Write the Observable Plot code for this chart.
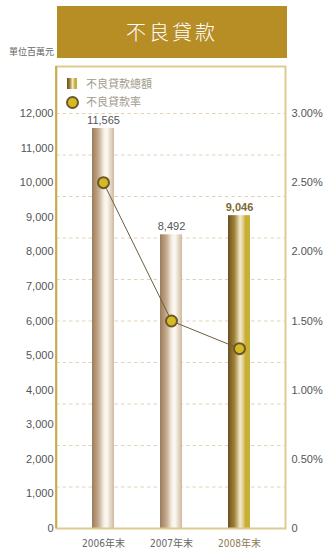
<!DOCTYPE html>
<html>
<head>
<meta charset="utf-8">
<script src="https://cdn.jsdelivr.net/npm/d3@7"></script>
<script src="https://cdn.jsdelivr.net/npm/@observablehq/plot@0.6"></script>
<style>
  html, body { margin: 0; padding: 0; background: #fff; }
  #wrap { position: relative; width: 323px; height: 553px; overflow: hidden; }
  #wrap svg.plot { position: absolute; left: 0; top: 0; }
  .title { position: absolute; left: 57px; top: 6px; width: 230px; height: 52px; background: #b68e25;
    color: #fff; font-family: "Noto Sans CJK TC", sans-serif; font-weight: 300; font-size: 20px;
    letter-spacing: 3px; text-align: center; line-height: 52px; z-index: 2; }
  .unit { position: absolute; right: 269px; top: 45px; font-family: "Noto Sans CJK TC", sans-serif;
    font-size: 9px; color: #666; white-space: nowrap; z-index: 2; }
  .leg { position: absolute; left: 66px; font-family: "Noto Sans CJK TC", sans-serif; font-size: 11px;
    color: #a39b8c; z-index: 2; white-space: nowrap; }
  .sw { position: absolute; }
</style>
</head>
<body>
<div id="wrap"></div>
<script>
const years = ["2006年末", "2007年末", "2008年末"];
const nplTotal = [11565, 8492, 9046];          // 百萬元
const nplRate = [2.50, 1.50, 1.30];            // %
const leftTicks = [0, 1000, 2000, 3000, 4000, 5000, 6000, 7000, 8000, 9000, 10000, 11000, 12000];
const rightTicks = [0, 0.5, 1.0, 1.5, 2.0, 2.5, 3.0]; // %
const gridRates = [0.3, 0.6, 0.9, 1.2, 1.5, 1.8, 2.1, 2.4, 2.7, 3.0]; // %
const titleText = "不良貸款";
const unitText = "單位百萬元";
const legendBar = "不良貸款總額";
const legendDot = "不良貸款率";

const rateToY = 12000 / 3.0; // right axis 3.00% aligns with 12,000
const data = years.map((y, i) => ({year: y, total: nplTotal[i], rate: nplRate[i], last: i === years.length - 1}));
const older = data.filter(d => !d.last);
const latest = data.filter(d => d.last);

const plot = Plot.plot({
  width: 323,
  height: 553,
  marginTop: 66,
  marginBottom: 25,
  marginLeft: 56,
  marginRight: 38,
  style: {fontFamily: "'Liberation Sans', Arial, sans-serif", fontSize: "11px", color: "#555", background: "transparent"},
  x: {domain: years, paddingInner: 0.679, paddingOuter: 0.511, label: null},
  y: {domain: [0, 12000 * 462 / 415], label: null},
  marks: [
    Plot.ruleY(gridRates.map(r => r * rateToY), {stroke: "#e3d0b8", strokeWidth: 1, strokeDasharray: "3.5,3"}),
    Plot.barY(older, {x: "year", y: "total", fill: "url(#gradTan)"}),
    Plot.barY(latest, {x: "year", y: "total", fill: "url(#gradGold)"}),
    Plot.text(older, {x: "year", y: "total", text: d => d3.format(",")(d.total), dy: -8, fill: "#555", fontSize: 11}),
    Plot.text(latest, {x: "year", y: "total", text: d => d3.format(",")(d.total), dy: -8, fill: "#7b6a34", fontWeight: "bold", fontSize: 11}),
    Plot.line(data, {x: "year", y: d => d.rate * rateToY, stroke: "#6d5c3e", strokeWidth: 1}),
    Plot.dot(data, {x: "year", y: d => d.rate * rateToY, r: 5.5, fill: "#d5bb23", stroke: "#6f5626", strokeWidth: 2}),
    Plot.frame({stroke: "#ddcb8f", strokeWidth: 2}),
    Plot.axisY(leftTicks, {anchor: "left", tickSize: 0, tickPadding: 3, tickFormat: d3.format(","), fill: "#555", fontSize: 11}),
    Plot.axisY(rightTicks.map(r => r * rateToY), {anchor: "right", tickSize: 0, tickPadding: 6,
      tickFormat: d => d === 0 ? "0" : (d / rateToY).toFixed(2) + "%", fill: "#555", fontSize: 11}),
    Plot.axisX({tickSize: 0, tickPadding: 11, fontSize: 10,
      fill: d => d === years[years.length - 1] ? "#8a7a4f" : "#666",
      fontFamily: "'Liberation Sans Narrow', 'DejaVu Sans Condensed', 'Noto Sans CJK TC', sans-serif"})
  ]
});
plot.classList.add("plot");

// gradients for the cylinder-like bars
const ns = "http://www.w3.org/2000/svg";
const defs = document.createElementNS(ns, "defs");
function grad(id, stops) {
  const g = document.createElementNS(ns, "linearGradient");
  g.setAttribute("id", id);
  g.setAttribute("x1", "0"); g.setAttribute("x2", "1"); g.setAttribute("y1", "0"); g.setAttribute("y2", "0");
  for (const [o, c] of stops) {
    const s = document.createElementNS(ns, "stop");
    s.setAttribute("offset", o); s.setAttribute("stop-color", c);
    g.appendChild(s);
  }
  defs.appendChild(g);
}
grad("gradTan", [[0, "#9a7c5b"], [0.3, "#c5ab90"], [0.55, "#f7f1e8"], [0.68, "#fbf8f3"], [1, "#d0b89c"]]);
grad("gradGold", [[0, "#6a4f1e"], [0.3, "#a3853a"], [0.55, "#f2ead0"], [0.66, "#e4d69a"], [0.8, "#c8ad36"], [1, "#c8b133"]]);
plot.insertBefore(defs, plot.firstChild);

const wrap = document.getElementById("wrap");
wrap.appendChild(plot);

// left frame edge in darker gold, drawn from the y scale
const yS = plot.scale("y");
{
  const line = document.createElementNS(ns, "line");
  line.setAttribute("x1", 56); line.setAttribute("x2", 56);
  line.setAttribute("y1", yS.apply(yS.domain[1])); line.setAttribute("y2", yS.apply(0));
  line.setAttribute("stroke", "#c4a237"); line.setAttribute("stroke-width", 1.5);
  plot.appendChild(line);
}

const t = document.createElement("div"); t.className = "title"; t.textContent = titleText; wrap.appendChild(t);
const u = document.createElement("div"); u.className = "unit"; u.textContent = unitText; wrap.appendChild(u);

const l1 = document.createElement("div"); l1.className = "leg"; l1.style.top = "75px";
l1.innerHTML = `<span class="sw" style="left:1px;top:3px;width:10px;height:11px;background:linear-gradient(to right,#6a4f1e,#a3853a 30%,#f2ead0 55%,#c8ad36 80%,#c8b133)"></span><span style="margin-left:20px">${legendBar}</span>`;
wrap.appendChild(l1);
const l2 = document.createElement("div"); l2.className = "leg"; l2.style.top = "93px";
l2.innerHTML = `<span class="sw" style="left:0px;top:2.5px;width:9px;height:9px;border-radius:50%;background:#d5bb23;border:2px solid #6f5626"></span><span style="margin-left:20px">${legendDot}</span>`;
wrap.appendChild(l2);
</script>
</body>
</html>
